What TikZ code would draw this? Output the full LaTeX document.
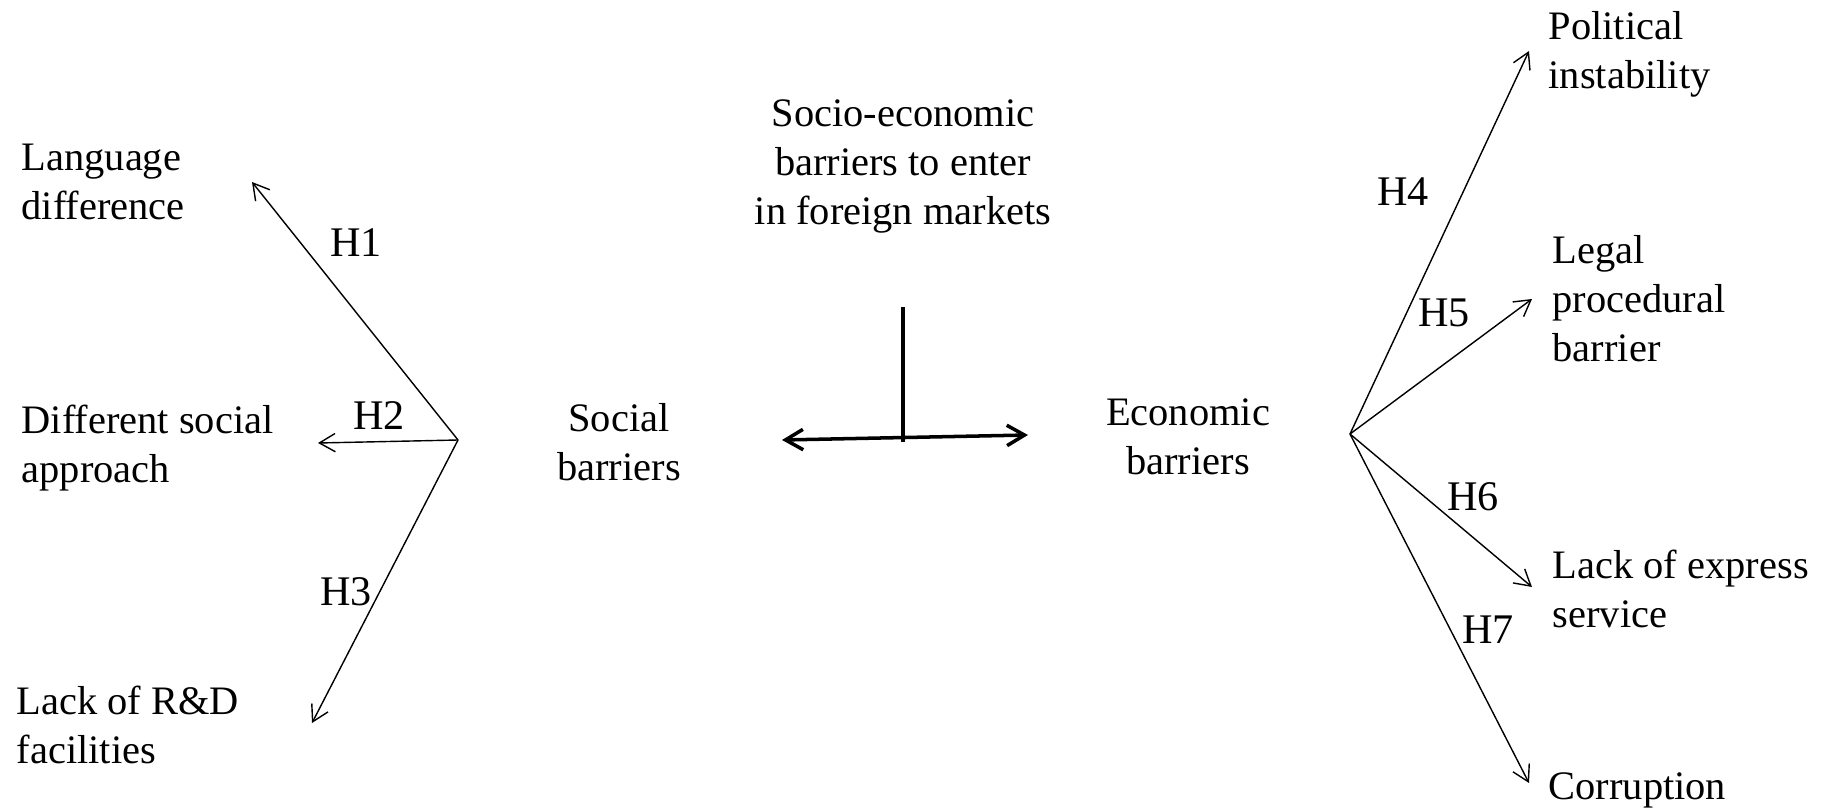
\documentclass[tikz,border=0pt]{standalone}
\usepackage{fontspec}
\setmainfont{Liberation Serif}
\usetikzlibrary{arrows.meta}
\tikzstyle{factor} = [align=left, anchor=base west, inner sep=0pt, font=\fontsize{11.5}{13.85}\selectfont]
\tikzstyle{barrier} = [align=center, anchor=base, inner sep=0pt, font=\fontsize{11.5}{13.85}\selectfont]
\tikzstyle{hyp} = [inner sep=0pt, font=\fontsize{12}{14}\selectfont]
\tikzstyle{arrow} = [->, >={Straight Barb[length=4.5pt,width=5.2pt]}]
\tikzstyle{bigarrow} = [line width=1pt, <->, >={Straight Barb[length=5pt,width=5.8pt]}]

\begin{document}
\begin{tikzpicture}[x=0.01cm, y=-0.01cm]
        \useasboundingbox (0,0) rectangle (1832,809);
        % title and the two main barriers (placed by the last line)
        \node (title) [barrier] at (903,224) {Socio-economic\\barriers to enter\\in foreign markets};
        \node (social) [barrier] at (619,480) {Social\\barriers};
        \node (economic) [barrier] at (1188,474) {Economic\\barriers};
        % social factors
        \node (language) [factor] at (21,219) {Language\\difference};
        \node (approach) [factor] at (21,482) {Different social\\approach};
        \node (research) [factor] at (16,763) {Lack of R\&D\\facilities};
        % economic factors
        \node (political) [factor] at (1548,88) {Political\\instability};
        \node (legal) [factor] at (1552,361) {Legal\\procedural\\barrier};
        \node (express) [factor] at (1552,627) {Lack of express\\service};
        \node (corruption) [factor] at (1548,799) {Corruption};
        % hypotheses
        \node (h1) [hyp] at (356,243) {H1};
        \node (h2) [hyp] at (379,416) {H2};
        \node (h3) [hyp] at (346,592) {H3};
        \node (h4) [hyp] at (1403,192) {H4};
        \node (h5) [hyp] at (1444,313) {H5};
        \node (h6) [hyp] at (1473,497) {H6};
        \node (h7) [hyp] at (1488,630) {H7};
        % hubs and arrow ends
        \coordinate (socialhub) at (458,440);
        \coordinate (econhub) at (1350,434);
        \coordinate (langend) at (252,182);
        \coordinate (approachend) at (318,443);
        \coordinate (researchend) at (312,723);
        \coordinate (politicalend) at (1529,51);
        \coordinate (legalend) at (1532,299);
        \coordinate (expressend) at (1532,587);
        \coordinate (corruptionend) at (1529,783);
        \coordinate (stemtop) at (903,307);
        \coordinate (stembottom) at (903,442);
        \coordinate (leftend) at (782,440);
        \coordinate (rightend) at (1028,435);

        \draw [arrow] (socialhub) -- (langend);
        \draw [arrow] (socialhub) -- (approachend);
        \draw [arrow] (socialhub) -- (researchend);
        \draw [arrow] (econhub) -- (politicalend);
        \draw [arrow] (econhub) -- (legalend);
        \draw [arrow] (econhub) -- (expressend);
        \draw [arrow] (econhub) -- (corruptionend);
        \draw [line width=1pt] (stemtop) -- (stembottom);
        \draw [bigarrow] (leftend) -- (rightend);
    \end{tikzpicture}
\end{document}
